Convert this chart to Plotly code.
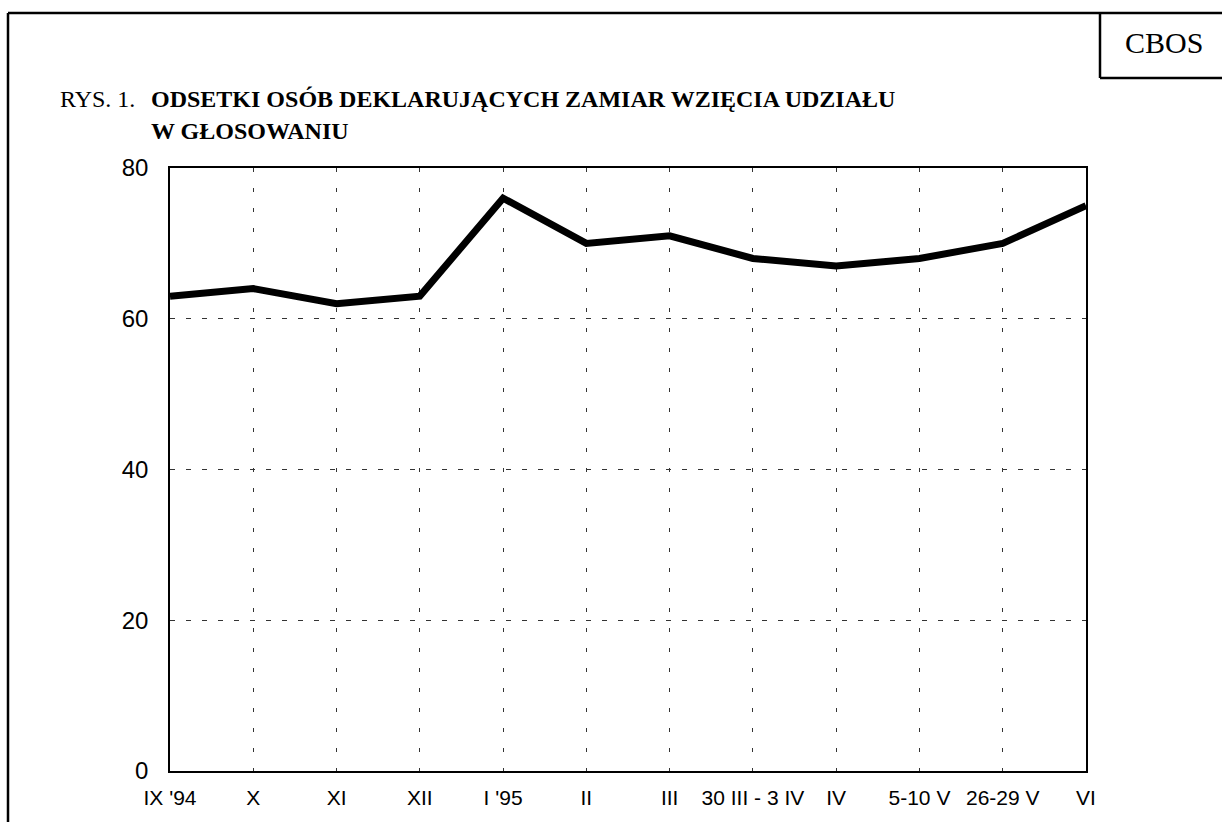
import plotly.graph_objects as go

categories = ["IX '94", "X", "XI", "XII", "I '95", "II", "III",
              "30 III - 3 IV", "IV", "5-10 V", "26-29 V", "VI"]
values = [63, 64, 62, 63, 76, 70, 71, 68, 67, 68, 70, 75]
y_ticks = [0, 20, 40, 60, 80]

W, H = 1222, 822
L, R, T, B = 170, 1086, 168, 771


def px(x):
    return (x - L) / (R - L)


def py(y):
    return (B - y) / (B - T)


fig = go.Figure()
fig.add_trace(go.Scatter(
    x=list(range(len(categories))), y=values, mode="lines",
    line=dict(color="black", width=7, shape="linear"),
    hoverinfo="skip", showlegend=False,
))

fig.update_layout(
    width=W, height=H,
    margin=dict(l=L, r=W - R, t=T, b=H - B, pad=0),
    paper_bgcolor="white", plot_bgcolor="white",
    showlegend=False,
    xaxis=dict(
        range=[0, len(categories) - 1],
        tickmode="array", tickvals=list(range(len(categories))), ticktext=categories,
        showgrid=True, gridcolor="#333", gridwidth=1, griddash="4px,16px",
        showline=True, linecolor="black", linewidth=1.5, mirror=True,
        ticks="", zeroline=False,
        tickfont=dict(family="Liberation Sans, Arial", size=21, color="black"),
        ticklabelstandoff=7,
    ),
    yaxis=dict(
        range=[0, 80], tickmode="array", tickvals=y_ticks,
        showgrid=True, gridcolor="#333", gridwidth=1, griddash="5px,11px",
        showline=True, linecolor="black", linewidth=1.5, mirror=True,
        ticks="", zeroline=False,
        tickfont=dict(family="Liberation Sans, Arial", size=24, color="black"),
        ticklabelstandoff=15,
    ),
)

serif = "Liberation Serif, Times New Roman"
fig.add_annotation(x=px(58), y=py(99), xref="paper", yref="paper",
                   text="RYS. 1.", showarrow=False, xanchor="left", yanchor="middle",
                   font=dict(family=serif, size=24, color="black"))
fig.add_annotation(x=px(149), y=py(99), xref="paper", yref="paper",
                   text="<b>ODSETKI OSÓB DEKLARUJĄCYCH ZAMIAR WZIĘCIA UDZIAŁU</b>",
                   showarrow=False, xanchor="left", yanchor="middle",
                   font=dict(family=serif, size=24, color="black"))
fig.add_annotation(x=px(149), y=py(131), xref="paper", yref="paper",
                   text="<b>W GŁOSOWANIU</b>",
                   showarrow=False, xanchor="left", yanchor="middle",
                   font=dict(family=serif, size=24, color="black"))
fig.add_annotation(x=px(1164), y=py(42), xref="paper", yref="paper",
                   text="CBOS", showarrow=False, xanchor="center", yanchor="middle",
                   font=dict(family=serif, size=30, color="black"))

frame = dict(color="black", width=2.5)
for x0, y0, x1, y1 in [(8, 13, 8, 822), (8, 13, 1222, 13),
                       (1100, 13, 1100, 78), (1100, 78, 1222, 78)]:
    fig.add_shape(type="line", xref="paper", yref="paper",
                  x0=px(x0), y0=py(y0), x1=px(x1), y1=py(y1), line=frame)

fig.write_html("out.html", config={"displayModeBar": False},
               post_script="document.body.style.margin='0';document.body.style.overflow='hidden';")
